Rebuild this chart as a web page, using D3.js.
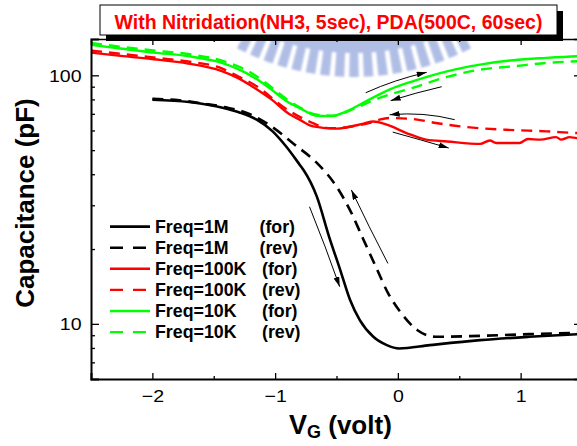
<!DOCTYPE html>
<html>
<head>
<meta charset="utf-8">
<script src="https://cdn.jsdelivr.net/npm/d3@7"></script>
<style>
  body { margin: 0; background: #fff; }
  svg { display: block; }
  text { font-family: "Liberation Sans", Arial, Helvetica, sans-serif; }
</style>
</head>
<body>
<svg id="chart" width="577" height="446"></svg>
<script>
// ---- data -------------------------------------------------------------
const titleText = "With Nitridation(NH3, 5sec), PDA(500C, 60sec)";
const xDomain = [-2.5, 1.5];
const yDomain = [6, 140];
const xMajorTicks = [-2, -1, 0, 1];
const xMinorTicks = [-1.5, -0.5, 0.5];
const yMajorTicks = [10, 100];
const yMinorTicks = [7, 8, 9, 20, 30, 40, 50, 60, 70, 80, 90];

// gate voltage (V), capacitance (pF)
const cv1MFor = [[-2.00, 79.8], [-1.70, 78.1], [-1.42, 73.9], [-1.29, 70.9], [-1.15, 66.3],
  [-1.02, 59.5], [-0.91, 51.7], [-0.80, 43.7], [-0.77, 41.7], [-0.66, 32.5], [-0.56, 22.4],
  [-0.47, 16.5], [-0.39, 12.5], [-0.31, 10.35], [-0.20, 8.87], [-0.09, 8.21], [0.01, 7.96],
  [0.26, 8.21], [0.67, 8.60], [1.07, 8.87], [1.50, 9.10]];
const cv1MRev = [[-2.00, 80.5], [-1.78, 79.3], [-1.58, 76.9], [-1.40, 74.3], [-1.21, 69.9],
  [-1.03, 62.3], [-0.84, 52.6], [-0.66, 44.4], [-0.50, 35.7], [-0.39, 28.7], [-0.28, 21.8],
  [-0.18, 17.0], [-0.08, 13.3], [0.03, 11.0], [0.16, 9.43], [0.31, 8.87], [0.67, 8.95],
  [1.07, 9.09], [1.50, 9.22]];
const cv100KFor = [[-2.50, 123.4], [-2.26, 119.7], [-1.99, 116.0], [-1.71, 111.5], [-1.44, 104.2],
  [-1.31, 97.9], [-1.17, 89.2], [-1.03, 80.0], [-0.90, 70.7], [-0.80, 66.3], [-0.69, 62.3],
  [-0.50, 61.0], [-0.42, 61.7], [-0.28, 63.9], [-0.20, 65.2], [-0.09, 63.3], [0.07, 58.6],
  [0.23, 55.1], [0.40, 54.2], [0.67, 53.0], [0.75, 54.7], [0.80, 53.4], [0.99, 53.4],
  [1.06, 55.4], [1.16, 55.1], [1.29, 56.4], [1.33, 55.1], [1.40, 56.4], [1.46, 55.9], [1.50, 56.2]];
const cv100KRev = [[-2.50, 125.8], [-1.99, 117.9], [-1.71, 113.6], [-1.44, 106.9], [-1.31, 99.5],
  [-1.17, 91.7], [-0.90, 72.7], [-0.72, 65.1], [-0.55, 61.2], [-0.39, 62.1], [-0.22, 64.6],
  [-0.15, 66.3], [-0.07, 67.3], [0.12, 66.7], [0.31, 64.3], [0.56, 61.9], [0.88, 60.4],
  [1.21, 59.5], [1.46, 58.6], [1.50, 58.5]];
const cv10KFor = [[-2.50, 132.6], [-2.26, 128.2], [-1.99, 123.4], [-1.71, 119.5], [-1.44, 112.5],
  [-1.31, 106.4], [-1.17, 97.9], [-1.03, 87.6], [-0.90, 78.3], [-0.80, 73.8], [-0.66, 68.8],
  [-0.55, 68.5], [-0.42, 71.6], [-0.26, 78.6], [-0.07, 87.6], [0.12, 94.6], [0.40, 103.8],
  [0.67, 110.4], [0.94, 115.0], [1.21, 117.5], [1.46, 119.3], [1.50, 119.5]];
const cv10KRev = [[-2.50, 134.9], [-1.99, 125.8], [-1.71, 121.8], [-1.44, 114.7], [-1.17, 100.6],
  [-1.03, 89.6], [-0.90, 79.8], [-0.80, 74.4], [-0.66, 69.4], [-0.53, 68.8], [-0.34, 74.0],
  [-0.15, 81.1], [0.12, 89.0], [0.40, 98.5], [0.67, 105.4], [0.94, 108.7], [1.21, 112.2],
  [1.46, 113.9], [1.50, 114.1]];

const seriesNames = ["Freq=1M", "Freq=1M", "Freq=100K", "Freq=100K", "Freq=10K", "Freq=10K"];
const sweepTags = ["(for)", "(rev)", "(for)", "(rev)", "(for)", "(rev)"];
const seriesData = [cv1MFor, cv1MRev, cv100KFor, cv100KRev, cv10KFor, cv10KRev];

// sweep-direction arrows: start, bend, end  (V, pF)
const sweepArrows = [
  [[-0.72, 29.6], [-0.588, 20.4], [-0.474, 14.1]],
  [[-0.081, 17.5], [-0.24, 24.8], [-0.379, 34.6]],
  [[-0.262, 85.1], [-0.026, 96.1], [0.235, 102.8]],
  [[0.357, 90.0], [0.145, 85.1], [-0.059, 79.1]],
  [[0.463, 66.3], [0.210, 71.4], [-0.067, 69.4]],
  [[-0.042, 59.1], [0.186, 55.0], [0.414, 51.0]]
];

// ---- styles -----------------------------------------------------------
const seriesStyle = [
  { color: "#000000", dash: null, width: 2.6 },
  { color: "#000000", dash: "11,7", width: 2.6 },
  { color: "#ff0000", dash: null, width: 2.4 },
  { color: "#ff0000", dash: "11,7", width: 2.4 },
  { color: "#00ff00", dash: null, width: 2.4 },
  { color: "#00ff00", dash: "11,7", width: 2.4 }
];

const plot = { left: 91, right: 582, top: 39, bottom: 379 };
const svg = d3.select("#chart");

const x = d3.scaleLinear().domain(xDomain).range([plot.left, plot.right]);
const y = d3.scaleLog().domain(yDomain).range([plot.bottom, plot.top]);

const defs = svg.append("defs");
defs.append("clipPath").attr("id", "plotClip")
  .append("rect")
  .attr("x", plot.left).attr("y", plot.top)
  .attr("width", plot.right - plot.left).attr("height", plot.bottom - plot.top);
defs.append("marker")
  .attr("id", "head")
  .attr("viewBox", "0 0 10 6")
  .attr("refX", 10).attr("refY", 3)
  .attr("markerWidth", 10).attr("markerHeight", 6)
  .attr("markerUnits", "userSpaceOnUse")
  .attr("orient", "auto")
  .append("path").attr("d", "M0,0 L10,3 L0,6 Z").attr("fill", "#000");
defs.append("filter").attr("id", "soft")
  .append("feGaussianBlur").attr("stdDeviation", 1.3);

// faint gear emblem behind the plot
const emblem = svg.append("g")
  .attr("transform", "translate(354,-175)")
  .attr("fill", "#8fa3dc")
  .attr("opacity", 0.7)
  .attr("filter", "url(#soft)");
const arc = d3.arc();
emblem.append("path").attr("d", arc({
  innerRadius: 210, outerRadius: 228,
  startAngle: Math.PI - 0.5, endAngle: Math.PI + 0.5
}));
d3.range(-8, 9).forEach(i => {
  const a = Math.PI + i * 0.058;
  emblem.append("path").attr("d", arc({
    innerRadius: 226, outerRadius: 252,
    startAngle: a - 0.019, endAngle: a + 0.019
  }));
});

// curves
const line = d3.line()
  .x(d => x(d[0]))
  .y(d => y(d[1]))
  .curve(d3.curveMonotoneX);

const curves = svg.append("g").attr("clip-path", "url(#plotClip)");
seriesData.forEach((data, i) => {
  const s = seriesStyle[i];
  curves.append("path")
    .attr("d", line(data))
    .attr("fill", "none")
    .attr("stroke", s.color)
    .attr("stroke-width", s.width)
    .attr("stroke-dasharray", s.dash)
    .attr("stroke-linejoin", "round");
});

// sweep arrows
const arrows = svg.append("g");
sweepArrows.forEach(a => {
  const [p0, p1, p2] = a.map(p => [x(p[0]), y(p[1])]);
  arrows.append("path")
    .attr("d", `M${p0[0]},${p0[1]} Q${p1[0]},${p1[1]} ${p2[0]},${p2[1]}`)
    .attr("fill", "none")
    .attr("stroke", "#000")
    .attr("stroke-width", 1)
    .attr("marker-end", "url(#head)");
});

// axes (ticks point inward)
const labelStretch = 1.15;
function styleAxis(g, width) {
  g.select(".domain").attr("stroke", "#000").attr("stroke-width", width);
  g.selectAll(".tick line").attr("stroke", "#000").attr("stroke-width", 1.3);
}

const bottom = svg.append("g")
  .attr("transform", `translate(0,${plot.bottom})`)
  .call(d3.axisBottom(x).tickValues(xMajorTicks).tickSize(-6).tickPadding(0)
    .tickFormat(d3.format("d")));
styleAxis(bottom, 2);
bottom.selectAll(".tick text")
  .attr("y", 0).attr("dy", 0)
  .attr("transform", `translate(0,23) scale(${labelStretch},1)`)
  .attr("font-size", 17).attr("fill", "#000")
  .attr("font-family", "'Liberation Sans', Arial, sans-serif");

svg.append("g")
  .attr("transform", `translate(0,${plot.bottom})`)
  .call(d3.axisBottom(x).tickValues(xMinorTicks).tickSize(-3).tickFormat(""))
  .call(g => { g.select(".domain").remove(); g.selectAll("line").attr("stroke", "#000").attr("stroke-width", 1.3); });

const topAxis = svg.append("g")
  .attr("transform", `translate(0,${plot.top})`)
  .call(d3.axisTop(x).tickValues(xMajorTicks).tickSize(-6).tickFormat(""));
styleAxis(topAxis, 1.5);
svg.append("g")
  .attr("transform", `translate(0,${plot.top})`)
  .call(d3.axisTop(x).tickValues(xMinorTicks).tickSize(-3).tickFormat(""))
  .call(g => { g.select(".domain").remove(); g.selectAll("line").attr("stroke", "#000").attr("stroke-width", 1.3); });

const left = svg.append("g")
  .attr("transform", `translate(${plot.left},0)`)
  .call(d3.axisLeft(y).tickValues(yMajorTicks).tickSize(-8).tickPadding(0)
    .tickFormat(d3.format("d")));
styleAxis(left, 2);
left.selectAll(".tick text")
  .attr("x", 0).attr("dy", "0.35em")
  .attr("transform", `translate(-9.5,0) scale(${labelStretch},1)`)
  .attr("font-size", 17).attr("fill", "#000")
  .attr("font-family", "'Liberation Sans', Arial, sans-serif");
svg.append("g")
  .attr("transform", `translate(${plot.left},0)`)
  .call(d3.axisLeft(y).tickValues(yMinorTicks).tickSize(-4).tickFormat(""))
  .call(g => { g.select(".domain").remove(); g.selectAll("line").attr("stroke", "#000").attr("stroke-width", 1.3); });

const rightAxis = svg.append("g")
  .attr("transform", `translate(${plot.right},0)`)
  .call(d3.axisRight(y).tickValues(yMajorTicks).tickSize(-8).tickFormat(""));
styleAxis(rightAxis, 1.5);
svg.append("g")
  .attr("transform", `translate(${plot.right},0)`)
  .call(d3.axisRight(y).tickValues(yMinorTicks).tickSize(-4).tickFormat(""))
  .call(g => { g.select(".domain").remove(); g.selectAll("line").attr("stroke", "#000").attr("stroke-width", 1.3); });

// axis titles
svg.append("text")
  .attr("transform", "translate(34,203) rotate(-90)")
  .attr("text-anchor", "middle")
  .attr("font-size", 26).attr("font-weight", "bold")
  .text("Capacitance (pF)");

const xTitle = svg.append("text")
  .attr("x", 289).attr("y", 434)
  .attr("font-weight", "bold");
xTitle.append("tspan").attr("font-size", 27).text("V");
xTitle.append("tspan").attr("font-size", 18).attr("dy", 3.5).text("G");
xTitle.append("tspan").attr("font-size", 26).attr("dy", -3.5).text(" (volt)");

// legend
const legend = svg.append("g");
seriesNames.forEach((name, i) => {
  const s = seriesStyle[i];
  const ly = 226.6 + i * 21.1;
  legend.append("line")
    .attr("x1", 110).attr("x2", 150).attr("y1", ly).attr("y2", ly)
    .attr("stroke", s.color).attr("stroke-width", s.width)
    .attr("stroke-dasharray", s.dash ? "13,10" : null);
  legend.append("text")
    .attr("x", 155).attr("y", ly + 6.2)
    .attr("font-size", 17.8).attr("font-weight", "bold")
    .text(name);
  legend.append("text")
    .attr("x", i < 2 ? 259.5 : 262).attr("y", ly + 6.2)
    .attr("font-size", 17.8).attr("font-weight", "bold")
    .text(sweepTags[i]);
});

// title box with drop shadow
const titleBox = svg.append("g");
titleBox.append("rect")
  .attr("x", 106).attr("y", 11).attr("width", 457).attr("height", 30)
  .attr("fill", "#000");
titleBox.append("rect")
  .attr("x", 100).attr("y", 5).attr("width", 457).attr("height", 30)
  .attr("fill", "#fff").attr("stroke", "#000").attr("stroke-width", 1);
titleBox.append("text")
  .attr("x", 328.5).attr("y", 28.5)
  .attr("text-anchor", "middle")
  .attr("font-size", 19.5).attr("font-weight", "bold")
  .attr("fill", "#ff0000")
  .text(titleText);
</script>
</body>
</html>
